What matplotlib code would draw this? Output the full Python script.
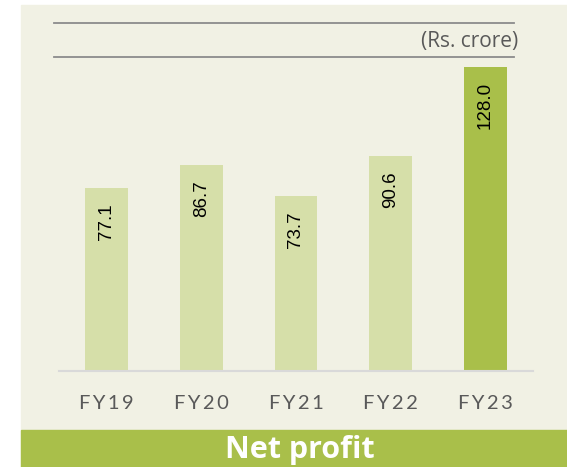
import matplotlib
matplotlib.use("Agg")
import matplotlib.pyplot as plt
from matplotlib.patches import Rectangle
from matplotlib.lines import Line2D

# data
years = ["FY19", "FY20", "FY21", "FY22", "FY23"]
net_profit = [77.1, 86.7, 73.7, 90.6, 128.0]

bg = "#f1f1e4"
light_green = "#d6dfa9"
dark_green = "#a9bf4a"
bar_colors = [light_green] * 4 + [dark_green]

W, H = 567, 467
fig = plt.figure(figsize=(W / 100, H / 100), dpi=100)
fig.patch.set_facecolor("white")

# beige panel + green title band (behind the axes)
fig.add_artist(Rectangle((21 / W, 0), 1 - 21 / W, (H - 5) / H,
                         transform=fig.transFigure, color=bg, zorder=-2))
fig.add_artist(Rectangle((21 / W, 0), 1 - 21 / W, 37 / H,
                         transform=fig.transFigure, color=dark_green, zorder=-1))

ax = fig.add_axes([59 / W, 96 / H, 474 / W, 314 / H])
ax.set_facecolor("none")
x = range(len(years))
ax.bar(x, net_profit, width=0.45, color=bar_colors, zorder=2)
ax.set_xlim(-0.5, 4.5)
ax.set_ylim(0, 132.2)

for s in ["top", "right", "left"]:
    ax.spines[s].set_visible(False)
ax.spines["bottom"].set_color("#d9d9d9")
ax.spines["bottom"].set_linewidth(1.5)
ax.set_yticks([])
ax.set_xticks(list(x))
ax.set_xticklabels(["\u2009".join(y) for y in years],
                   family=["Lato", "DejaVu Sans"], fontsize=14.5, color="#595959")
ax.tick_params(axis="x", length=0, pad=17)

# value labels inside bars
for i, v in enumerate(net_profit):
    ax.annotate(f"{v:.1f}", xy=(i, v), xytext=(0, -11), textcoords="offset points",
                rotation=90, ha="center", va="top", fontsize=13.5,
                family="Liberation Sans", color="black", zorder=3)

# header lines and unit
for yy in [22.5, 57.3]:
    fig.add_artist(Line2D([53.5 / W, 514 / W], [1 - yy / H] * 2,
                          transform=fig.transFigure, color="#8c8c8c", lw=1.3))
fig.text(518 / W, 1 - 41.5 / H, "(Rs. crore)", ha="right", va="center",
         family="Open Sans", fontsize=15, color="#595959")

fig.text(300 / W, 1 - 450 / H, "Net profit", ha="center", va="center",
         family="Open Sans", fontweight="bold", fontsize=22, color="white")

fig.savefig("out.png", dpi=100)
